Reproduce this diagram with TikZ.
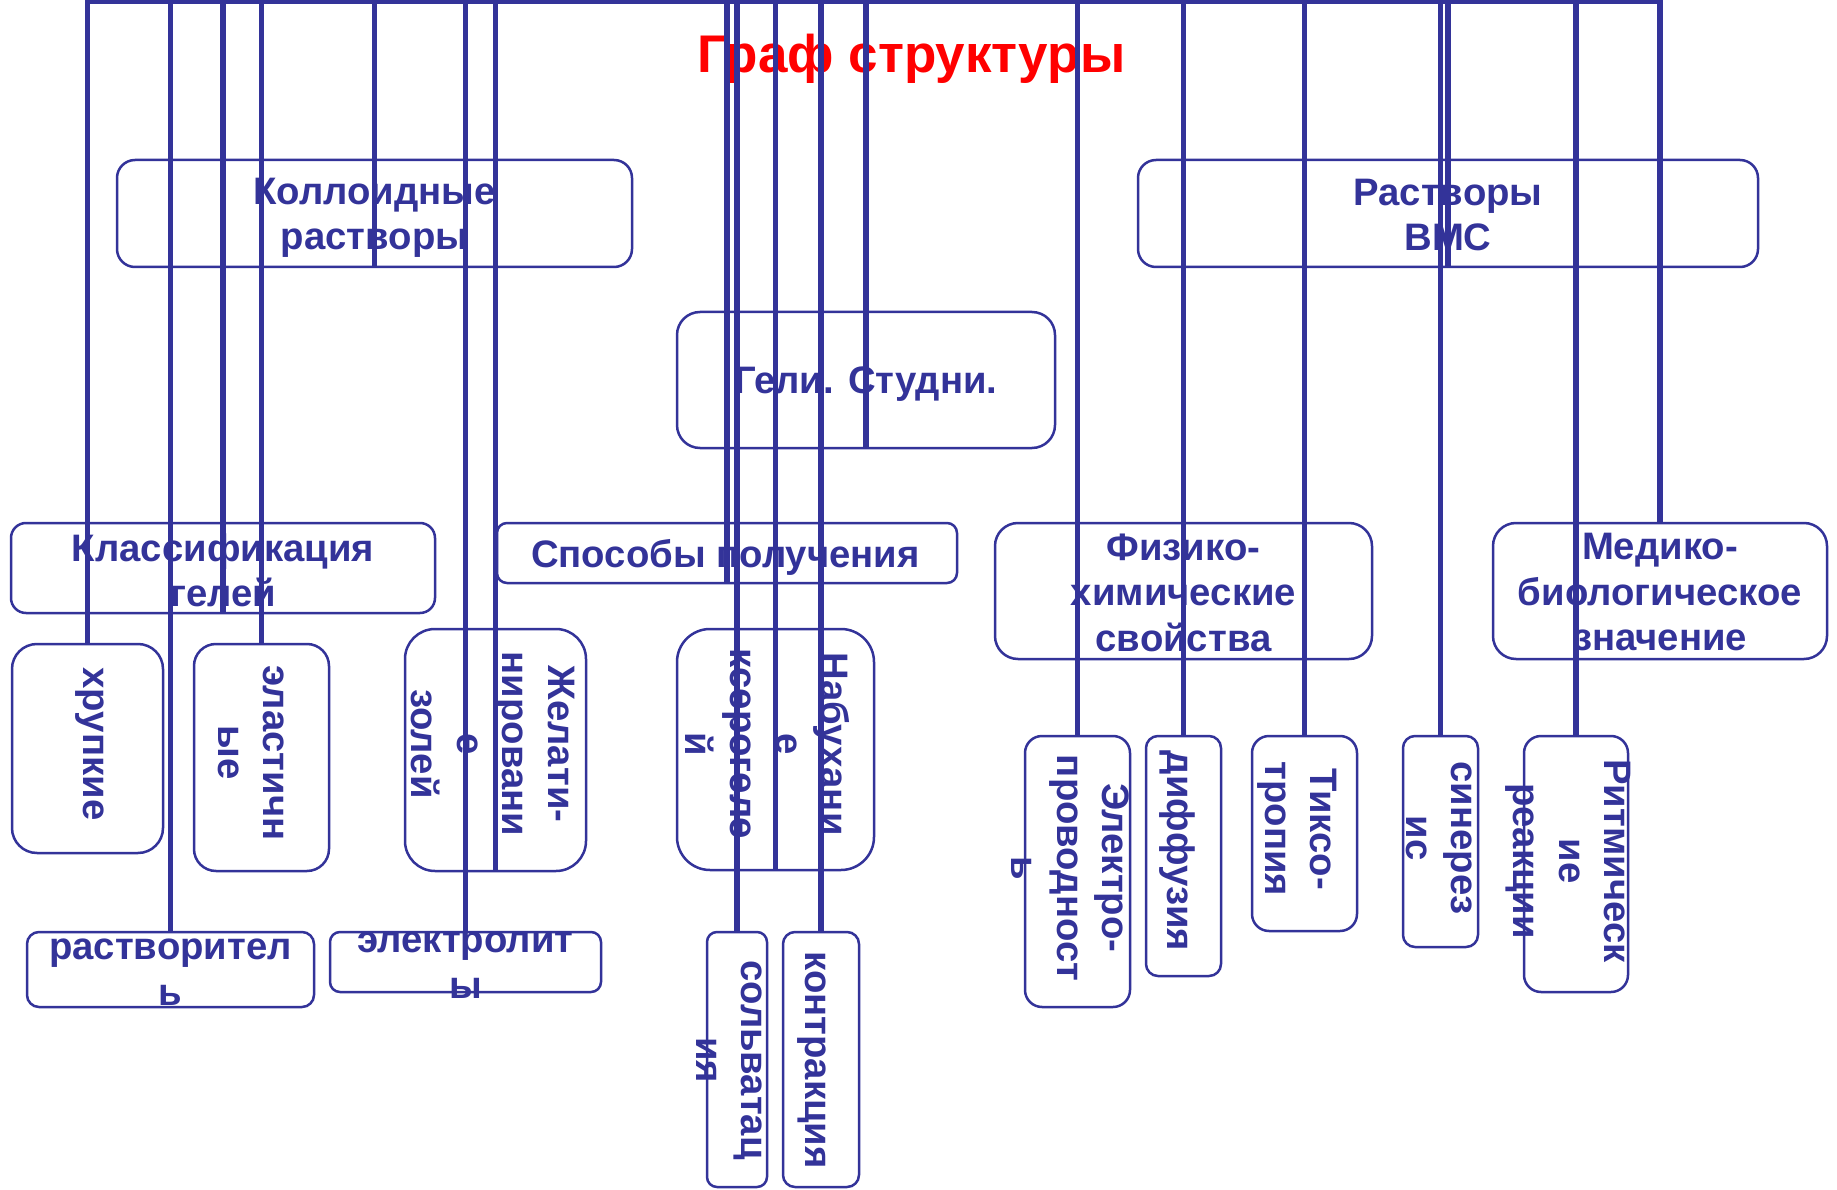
\documentclass[tikz,border=0pt]{standalone}
\usepackage{fontspec}
\setmainfont{Liberation Sans}
\definecolor{navy}{RGB}{51,51,153}
\begin{document}
\begin{tikzpicture}[x=1pt,y=-1pt,
  box/.style={draw=navy, line width=2.5pt, rounded corners=#1pt, inner sep=0pt, outer sep=0pt},
  lbl/.style={text=navy, font=\fontsize{38.3pt}{45.5pt}\selectfont\bfseries, align=center, inner sep=0pt},
  vlbl/.style={lbl, rotate=-90},
  conn/.style={draw=navy, line width=5.5pt}]
\useasboundingbox (0,0) rectangle (1837,1190);
\coordinate (top) at (0,1);
% boxes
\node[box=18, minimum width=515pt, minimum height=107pt] (kol) at (374.5,213.5) {};
\node[box=18, minimum width=620pt, minimum height=107pt] (vms) at (1448,213.5) {};
\node[box=23, minimum width=378pt, minimum height=136pt] (gel) at (866,380) {};
\node[box=15, minimum width=424pt, minimum height=90pt] (kls) at (223,568) {};
\node[box=10, minimum width=460pt, minimum height=60pt] (spo) at (727,553) {};
\node[box=23, minimum width=377pt, minimum height=136pt] (fiz) at (1183.5,591) {};
\node[box=23, minimum width=334pt, minimum height=136pt] (med) at (1660,591) {};
\node[box=25, minimum width=151pt, minimum height=209pt] (hru) at (87.5,748.5) {};
\node[box=22, minimum width=135pt, minimum height=227pt] (ela) at (261.5,757.5) {};
\node[box=30, minimum width=181pt, minimum height=242pt] (zhe) at (495.5,750) {};
\node[box=33, minimum width=197pt, minimum height=241pt] (nab) at (775.5,749.5) {};
\node[box=12, minimum width=287pt, minimum height=75pt] (rast) at (170.5,969.5) {};
\node[box=10, minimum width=271pt, minimum height=60pt] (elt) at (465.5,962) {};
\node[box=10, minimum width=60pt, minimum height=255pt] (sol) at (737,1059.5) {};
\node[box=12, minimum width=76pt, minimum height=255pt] (kon) at (821,1059.5) {};
\node[box=17, minimum width=105pt, minimum height=271pt] (ele) at (1077.5,871.5) {};
\node[box=12, minimum width=75pt, minimum height=240pt] (dif) at (1183.5,856) {};
\node[box=17, minimum width=105pt, minimum height=195pt] (tik) at (1304.5,833.5) {};
\node[box=12, minimum width=75pt, minimum height=211pt] (sin) at (1440.5,841.5) {};
\node[box=17, minimum width=104pt, minimum height=256pt] (rit) at (1576,864) {};
% title
\node[text=red, font=\fontsize{53pt}{60pt}\selectfont\bfseries, anchor=base, inner sep=0pt] (title) at (911.5,73) {Граф структуры};
% horizontal labels
\node[lbl] (kolT) at (374.5,218) {Коллоидные\\растворы};
\node[lbl] (vmsT) at (1448,215) {Растворы\\ВМС};
\node[lbl] (gelT) at (866,384) {Гели. Студни.};
\node[lbl] (klsT) at (223,570.5) {Классификация\\гелей};
\node[lbl] (spoT) at (725.5,557) {Способы получения};
\node[lbl] (fizT) at (1183.5,592.5) {Физико-\\химические\\свойства};
\node[lbl] (medT) at (1660,592.5) {Медико-\\биологическое\\значение};
\node[lbl] (rastT) at (170.5,972) {растворител\\ь};
\node[lbl] (eltT) at (465.5,965) {электролит\\ы};
% rotated labels
\node[vlbl] (hruT) at (89.5,744) {хрупкие};
\node[vlbl] (elaT) at (251,753) {эластичн\\ые};
\node[vlbl] (zheT) at (493,744) {Желати-\\нировани\\е\\золей};
\node[vlbl] (nabT) at (767.5,744) {Набухани\\е\\ксерогеле\\й};
\node[vlbl] (solT) at (729.5,1060) {сольватац\\ия};
\node[vlbl] (konT) at (811.5,1060) {контракция};
\node[vlbl] (eleT) at (1070.5,868) {Электро-\\проводност\\ь};
\node[vlbl] (difT) at (1177.5,851) {диффузия};
\node[vlbl] (tikT) at (1297,829) {Тиксо-\\тропия};
\node[vlbl] (sinT) at (1439,838) {синерез\\ис};
\node[vlbl] (ritT) at (1568.5,861) {Ритмическ\\ие\\реакции};
% connectors
\draw[conn, line cap=rect] (hru.north |- top) -- (med.north |- top);
\foreach \n in {hru,rast,ela,elt,sol,kon,ele,dif,tik,sin,rit,med}
  \draw[conn] (\n.north |- top) -- (\n.north);
\foreach \n in {kls,kol,zhe,spo,nab,gel,vms}
  \draw[conn] (\n.south |- top) -- (\n.south);
\end{tikzpicture}
\end{document}
